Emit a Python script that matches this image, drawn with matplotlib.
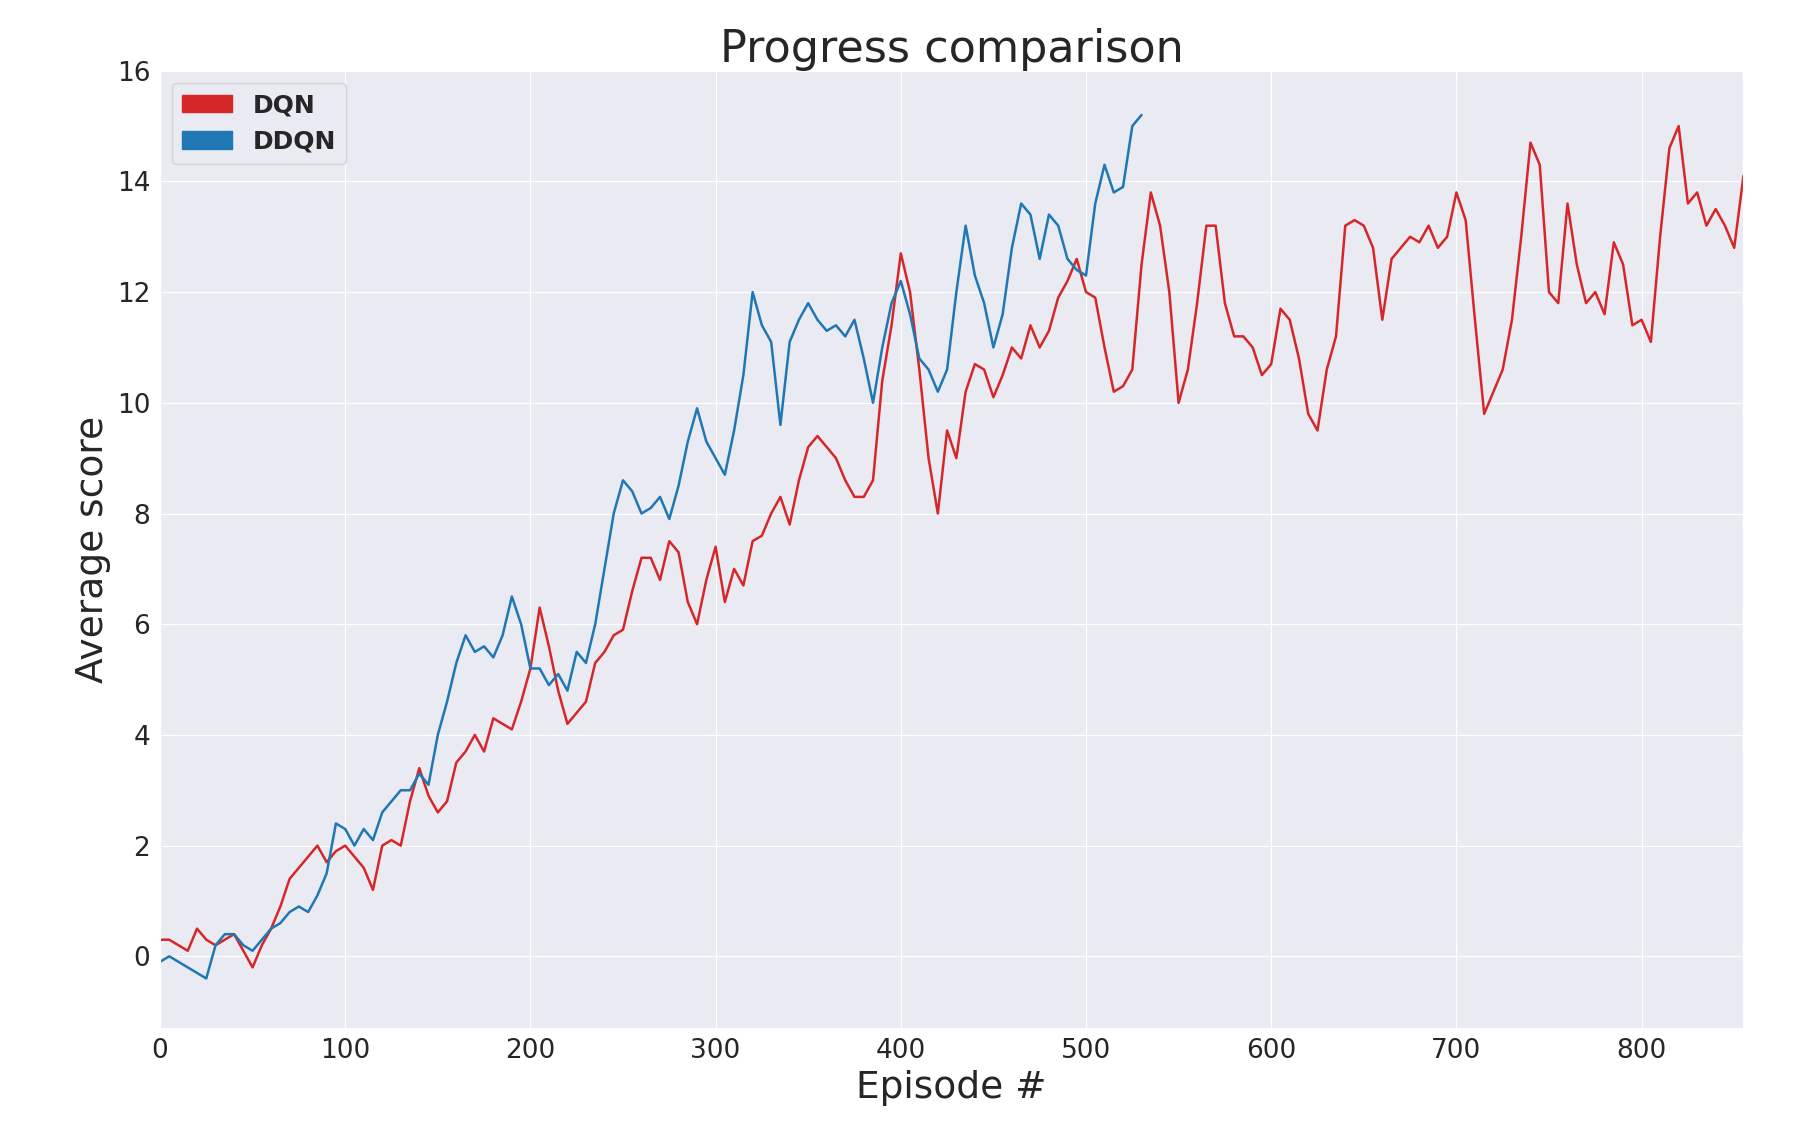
import numpy as np
import matplotlib.pyplot as plt
import matplotlib.patches as mpatches
import seaborn as sns

dqn_scores = [0.3, 0.3, 0.2, 0.1, 0.5, 0.3, 0.2, 0.3, 0.4, 0.1, -0.2, 0.2, 0.5, 0.9, 1.4, 1.6, 1.8, 2.0, 1.7, 1.9,
              2.0, 1.8, 1.6, 1.2, 2.0, 2.1, 2.0, 2.8, 3.4, 2.9, 2.6, 2.8, 3.5, 3.7, 4.0, 3.7, 4.3, 4.2, 4.1, 4.6,
              5.2, 6.3, 5.6, 4.8, 4.2, 4.4, 4.6, 5.3, 5.5, 5.8, 5.9, 6.6, 7.2, 7.2, 6.8, 7.5, 7.3, 6.4, 6.0, 6.8,
              7.4, 6.4, 7.0, 6.7, 7.5, 7.6, 8.0, 8.3, 7.8, 8.6, 9.2, 9.4, 9.2, 9.0, 8.6, 8.3, 8.3, 8.6, 10.4, 11.4,
              12.7, 12.0, 10.6, 9.0, 8.0, 9.5, 9.0, 10.2, 10.7, 10.6, 10.1, 10.5, 11.0, 10.8, 11.4, 11.0, 11.3, 11.9, 12.2, 12.6,
              12.0, 11.9, 11.0, 10.2, 10.3, 10.6, 12.5, 13.8, 13.2, 12.0, 10.0, 10.6, 11.8, 13.2, 13.2, 11.8, 11.2, 11.2, 11.0, 10.5,
              10.7, 11.7, 11.5, 10.8, 9.8, 9.5, 10.6, 11.2, 13.2, 13.3, 13.2, 12.8, 11.5, 12.6, 12.8, 13.0, 12.9, 13.2, 12.8, 13.0,
              13.8, 13.3, 11.5, 9.8, 10.2, 10.6, 11.5, 13.0, 14.7, 14.3, 12.0, 11.8, 13.6, 12.5, 11.8, 12.0, 11.6, 12.9, 12.5, 11.4,
              11.5, 11.1, 13.0, 14.6, 15.0, 13.6, 13.8, 13.2, 13.5, 13.2, 12.8, 14.1]
ddqn_scores = [-0.1, 0.0, -0.1, -0.2, -0.3, -0.4, 0.2, 0.4, 0.4, 0.2, 0.1, 0.3, 0.5, 0.6, 0.8, 0.9, 0.8, 1.1, 1.5, 2.4,
               2.3, 2.0, 2.3, 2.1, 2.6, 2.8, 3.0, 3.0, 3.3, 3.1, 4.0, 4.6, 5.3, 5.8, 5.5, 5.6, 5.4, 5.8, 6.5, 6.0,
               5.2, 5.2, 4.9, 5.1, 4.8, 5.5, 5.3, 6.0, 7.0, 8.0, 8.6, 8.4, 8.0, 8.1, 8.3, 7.9, 8.5, 9.3, 9.9, 9.3,
               9.0, 8.7, 9.5, 10.5, 12.0, 11.4, 11.1, 9.6, 11.1, 11.5, 11.8, 11.5, 11.3, 11.4, 11.2, 11.5, 10.8, 10.0, 11.0, 11.8,
               12.2, 11.6, 10.8, 10.6, 10.2, 10.6, 12.0, 13.2, 12.3, 11.8, 11.0, 11.6, 12.8, 13.6, 13.4, 12.6, 13.4, 13.2, 12.6, 12.4,
               12.3, 13.6, 14.3, 13.8, 13.9, 15.0, 15.2]
dqn_episodes = np.arange(len(dqn_scores)) * 5
ddqn_episodes = np.arange(len(ddqn_scores)) * 5

sns.set_style("darkgrid")
fig = plt.figure(figsize=(18.18, 11.4), dpi=100)
ax = fig.add_axes([0.088, 0.098, 0.871, 0.84])

ax.plot(dqn_episodes, dqn_scores, color='tab:red', linewidth=1.8)
ax.plot(ddqn_episodes, ddqn_scores, color='tab:blue', linewidth=1.8)

ax.set_xlim(0, 855)
ax.set_ylim(-1.3, 16)
ax.set_xticks(np.arange(0, 900, 100))
ax.set_yticks(np.arange(0, 18, 2))
ax.tick_params(labelsize=19)
ax.set_xlabel('Episode #', fontsize=27)
ax.set_ylabel('Average score', fontsize=27)
ax.set_title('Progress comparison', fontsize=32)

handles = [mpatches.Patch(color='tab:red', label='DQN'), mpatches.Patch(color='tab:blue', label='DDQN')]
ax.legend(handles=handles, loc='upper left', prop={'weight': 'bold', 'size': 18})

plt.savefig('out.png')
